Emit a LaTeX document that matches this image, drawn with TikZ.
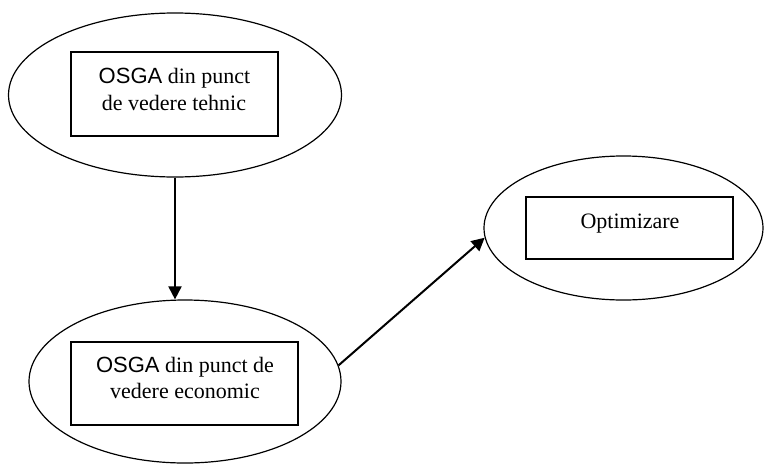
\documentclass[tikz,border=0pt]{standalone}
\usepackage{fontspec}
\setmainfont{Liberation Serif}
\newfontfamily\arialf{Liberation Sans}
\usetikzlibrary{shapes.geometric,arrows.meta}

\tikzset{
  oval/.style={draw, ellipse, line width=1.2pt, inner sep=0pt},
  frame/.style={draw, rectangle, line width=1.6pt, inner sep=0pt},
  txt/.style={anchor=base, inner sep=0pt, font=\fontsize{22}{27}\selectfont},
  arr/.style={line width=2pt, -{Triangle[length=13pt, width=13pt]}}
}

\begin{document}
\begin{tikzpicture}[x=1pt, y=-1pt]
  \useasboundingbox (0,0) rectangle (764,464);

  % outer ovals
  \node[oval, minimum width=333pt, minimum height=164pt] (e1) at (175,95) {};
  \node[oval, minimum width=312pt, minimum height=163pt] (e2) at (185,381.5) {};
  \node[oval, minimum width=279pt, minimum height=144pt] (e3) at (623.5,228) {};

  % inner frames
  \node[frame, minimum width=207pt, minimum height=84pt] (b1) at (174.4,94) {};
  \node[frame, minimum width=227pt, minimum height=83pt] (b2) at (184.5,383.5) {};
  \node[frame, minimum width=207pt, minimum height=62pt] (b3) at (629.5,228) {};

  % labels
  \node[txt] (t1a) at (174.5,83) {{\arialf OSGA} din punct};
  \node[txt] (t1b) at (174,110) {de vedere tehnic};
  \node[txt] (t2a) at (185,372) {{\arialf OSGA} din punct de};
  \node[txt] (t2b) at (185,398) {vedere economic};
  \node[txt] (t3)  at (630,228) {Optimizare};

  % flow
  \draw[arr] (e1.south) -- (e1.south |- e2.north);
  \draw[arr] (e2.6.9) -- (e3.184.9);
\end{tikzpicture}
\end{document}
